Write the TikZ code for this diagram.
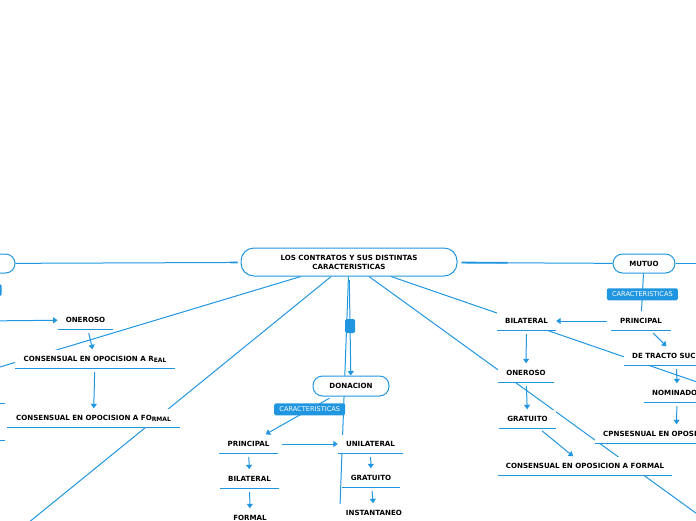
\documentclass[tikz,border=0pt]{standalone}
\usepackage{fontspec}
\setmainfont{DejaVu Sans}
\usepackage{tikz}
\usetikzlibrary{arrows.meta,backgrounds,calc}
\definecolor{mmblue}{RGB}{33,150,224}

\begin{document}
\begin{tikzpicture}[x=1pt,y=-1pt,
	conn/.style={draw=mmblue,line width=1pt},
	arr/.style={conn,shorten <=3.5pt,-{Triangle[width=6pt,length=4.5pt]}},
	pill/.style={draw=mmblue,line width=1pt,fill=white,rounded corners=9.5pt,minimum height=19pt,inner sep=0pt,font=\fontsize{7.1}{9}\selectfont\bfseries},
	topic/.style={fill=white,inner xsep=8pt,inner ysep=0pt,minimum height=19pt,text height=5pt,text depth=0pt,font=\fontsize{7.1}{9}\selectfont\bfseries,
		append after command={(\tikzlastnode.south west) edge[conn] (\tikzlastnode.south east)}},
	tag/.style={fill=mmblue,text=white,rounded corners=1.5pt,minimum width=71pt,minimum height=12pt,inner sep=1pt,font=\fontsize{6.6}{7}\selectfont},
	toggle/.style={fill=mmblue,rounded corners=1.5pt,minimum width=10pt,minimum height=14pt,inner sep=0pt}]
\useasboundingbox (0,0) rectangle (696,520);

\node (main) at (349,262)[pill,minimum width=216pt,minimum height=28pt,rounded corners=13pt,align=center] {LOS CONTRATOS Y SUS DISTINTAS\\CARACTERISTICAS};
\node (izq) at (-22,263.5)[pill,minimum width=74pt] {};
\node (mutuo) at (644,263.5)[pill,minimum width=62pt] {MUTUO};
\node (donacion) at (351,386)[pill,minimum width=76pt,minimum height=20pt] {DONACION};

\node (tagizq) at (-34,290)[tag] {};
\node (oneizq) at (85.5,320)[topic,minimum width=55pt] {ONEROSO};
\node (realizq) at (95,359)[topic,minimum width=160pt] {CONSENSUAL EN OPOCISION A R\raisebox{-0.5pt}{\fontsize{6}{6}\selectfont EAL}};
\node (formizq) at (93.5,418)[topic,minimum width=173pt] {CONSENSUAL EN OPOCISION A FO\raisebox{-0.8pt}{\fontsize{6}{6}\selectfont RMAL}};
\node (stub1) at (-30,393.5)[topic,minimum width=70pt] {};
\node (stub2) at (-30,430.5)[topic,minimum width=70pt] {};
\coordinate (inizq) at (-20,321);

\node (dprin) at (248.5,444)[topic,minimum width=59pt] {PRINCIPAL};
\node (unil) at (370.5,444)[topic,minimum width=65pt] {UNILATERAL};
\node (dbil) at (249.5,479)[topic,minimum width=59pt] {BILATERAL};
\node (dgrat) at (371,478)[topic,minimum width=58pt] {GRATUITO};
\node (dform) at (250,518)[topic,minimum width=50pt] {FORMAL};
\node (instant) at (374,513)[topic,minimum width=76pt] {INSTANTANEO};

\node (mprin) at (641,321)[topic,minimum width=60pt] {PRINCIPAL};
\node (mbil) at (526.5,321)[topic,minimum width=59pt] {BILATERAL};
\node (tracto) at (624,356)[topic,anchor=west,text width=88pt,align=left] {DE TRACTO SUC};
\node (nomin) at (644,393)[topic,anchor=west,text width=50pt,align=left] {NOMINADO};
\node (cpns) at (595,434)[topic,anchor=west,text width=146pt,align=left] {CPNSESNUAL EN OPOSI};
\node (moner) at (526,373)[topic,minimum width=54pt] {ONEROSO};
\node (mgrat) at (527.5,419)[topic,minimum width=57pt] {GRATUITO};
\node (mform) at (585,466)[topic,minimum width=174pt] {CONSENSUAL EN OPOSICION A FORMAL};

\coordinate (fin1) at (-10,370);
\coordinate (fin2) at (28,523);
\coordinate (fin3) at (340,506);
\coordinate (fin4) at (700,383);
\coordinate (fin5) at (700,516);

\begin{scope}[on background layer]
	\draw[conn] (main) to (fin1);
	\draw[conn] (main) to (fin2);
	\draw[conn] (main) to (fin3);
	\draw[conn] (main) to (fin4);
	\draw[conn] (main) to (fin5);
\end{scope}

\draw[conn,shorten >=3pt] (izq) to (main);
\draw[conn,line width=1.8pt,shorten <=215pt,shorten >=3pt] (izq) to (main);
\draw[conn,shorten <=4pt] (main) to (mutuo);
\draw[conn,line width=1.8pt,shorten <=4pt,shorten >=105pt] (main) to (mutuo);
\draw[conn] (mutuo) to ($(mutuo)+(52,0)$);
\draw[arr] (main) -- node[toggle] {} (donacion);

\draw[arr] (inizq) to (oneizq);
\draw[arr] (oneizq) to (realizq);
\draw[arr] (realizq) to (formizq);

\draw[arr] (donacion) -- node[tag,pos=0.34] {CARACTERISTICAS} (dprin);
\draw[arr] (dprin) to (unil);
\draw[arr] (dprin) to (dbil);
\draw[arr] (dbil) to (dform);
\draw[arr] (unil) to (dgrat);
\draw[arr] (dgrat) to (instant);

\draw[conn] (mutuo) -- node[tag,pos=0.55] {CARACTERISTICAS} (mprin);
\draw[arr] (mprin) to (mbil);
\draw[arr] (mprin) to (tracto);
\draw[arr] (tracto) to (nomin);
\draw[arr] (nomin) to (cpns);
\draw[arr] (mbil) to (moner);
\draw[arr] (moner) to (mgrat);
\draw[arr] (mgrat) to (mform);

\end{tikzpicture}
\end{document}
